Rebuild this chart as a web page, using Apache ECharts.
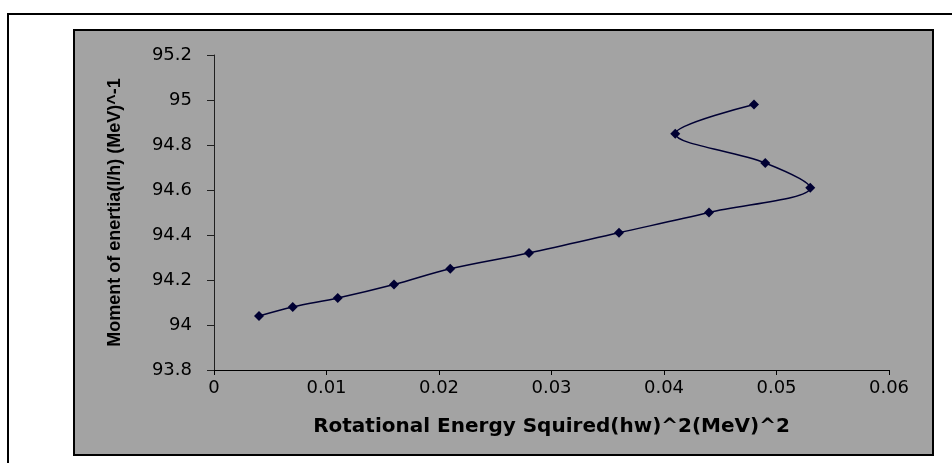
<!DOCTYPE html>
<html>
<head>
<meta charset="utf-8">
<title>Moment of inertia vs rotational energy squared</title>
<script src="https://cdn.jsdelivr.net/npm/echarts@6/dist/echarts.min.js"></script>
<style>
  html, body { margin: 0; padding: 0; background: #ffffff; }
  #chart { width: 952px; height: 463px; }
</style>
</head>
<body>
<div id="chart"></div>
<script>
// Rotational energy squared (hw)^2 in (MeV)^2, in measurement order
const energySquared = [0.004, 0.007, 0.011, 0.016, 0.021, 0.028, 0.036, 0.044, 0.053, 0.049, 0.041, 0.048];
// Moment of inertia (I/h) in (MeV)^-1, paired with the values above
const momentOfInertia = [94.04, 94.08, 94.12, 94.18, 94.25, 94.32, 94.41, 94.50, 94.61, 94.72, 94.85, 94.98];

// Axis tick labels, from the axis minimum upward
const xTickLabels = ['0', '0.01', '0.02', '0.03', '0.04', '0.05', '0.06'];
const yTickLabels = ['93.8', '94', '94.2', '94.4', '94.6', '94.8', '95', '95.2'];

const xMin = 0, xMax = 0.06, xStep = 0.01;
const yMin = 93.8, yMax = 95.2, yStep = 0.2;

function tickLabel(labels, min, step) {
  return function (v) {
    const i = Math.round((v - min) / step);
    return labels[i] !== undefined ? labels[i] : '';
  };
}

const chart = echarts.init(document.getElementById('chart'), null, { renderer: 'canvas' });

chart.setOption({
  animation: false,
  backgroundColor: '#ffffff',
  graphic: [
    // outer frame (top and left edges)
    { type: 'polyline', z: -10, silent: true,
      shape: { points: [[8, 463], [8, 14], [952, 14]] },
      style: { stroke: '#000000', lineWidth: 2, fill: null } },
    // grey chart panel
    { type: 'rect', z: -9, silent: true,
      shape: { x: 74, y: 30, width: 859, height: 425 },
      style: { fill: '#a3a3a3', stroke: '#000000', lineWidth: 2 } }
  ],
  grid: { left: 214, top: 55, right: 63, bottom: 93, containLabel: false },
  xAxis: {
    type: 'value',
    min: xMin, max: xMax, interval: xStep,
    name: 'Rotational Energy Squired(hw)^2(MeV)^2',
    nameLocation: 'middle',
    nameGap: 47,
    nameTextStyle: { fontFamily: 'DejaVu Sans', fontWeight: 'bold', fontSize: 20, color: '#000000' },
    axisLine: { show: true, onZero: false, lineStyle: { color: '#000000', width: 1 } },
    axisTick: { show: true, inside: false, length: 5, lineStyle: { color: '#000000' } },
    axisLabel: { margin: 9, fontFamily: 'DejaVu Sans', fontSize: 18, color: '#000000',
      formatter: tickLabel(xTickLabels, xMin, xStep) },
    splitLine: { show: false }
  },
  yAxis: {
    type: 'value',
    min: yMin, max: yMax, interval: yStep,
    name: 'Moment of enertia(I/h) (MeV)^-1',
    nameLocation: 'middle',
    nameGap: 90,
    nameRotate: 90,
    nameTextStyle: { fontFamily: 'Liberation Sans', fontWeight: 'bold', fontSize: 18, color: '#000000' },
    axisLine: { show: true, onZero: false, lineStyle: { color: '#202020', width: 1 } },
    axisTick: { show: true, inside: false, length: 7, lineStyle: { color: '#202020' } },
    axisLabel: { margin: 22, fontFamily: 'DejaVu Sans', fontSize: 18, color: '#000000',
      formatter: tickLabel(yTickLabels, yMin, yStep) },
    splitLine: { show: false }
  },
  series: [{
    type: 'line',
    data: energySquared.map((x, i) => [x, momentOfInertia[i]]),
    smooth: 0.35,
    symbol: 'diamond',
    symbolSize: [10, 10],
    showAllSymbol: true,
    lineStyle: { color: '#000033', width: 1.5 },
    itemStyle: { color: '#000033' },
    clip: false
  }]
});
</script>
</body>
</html>
